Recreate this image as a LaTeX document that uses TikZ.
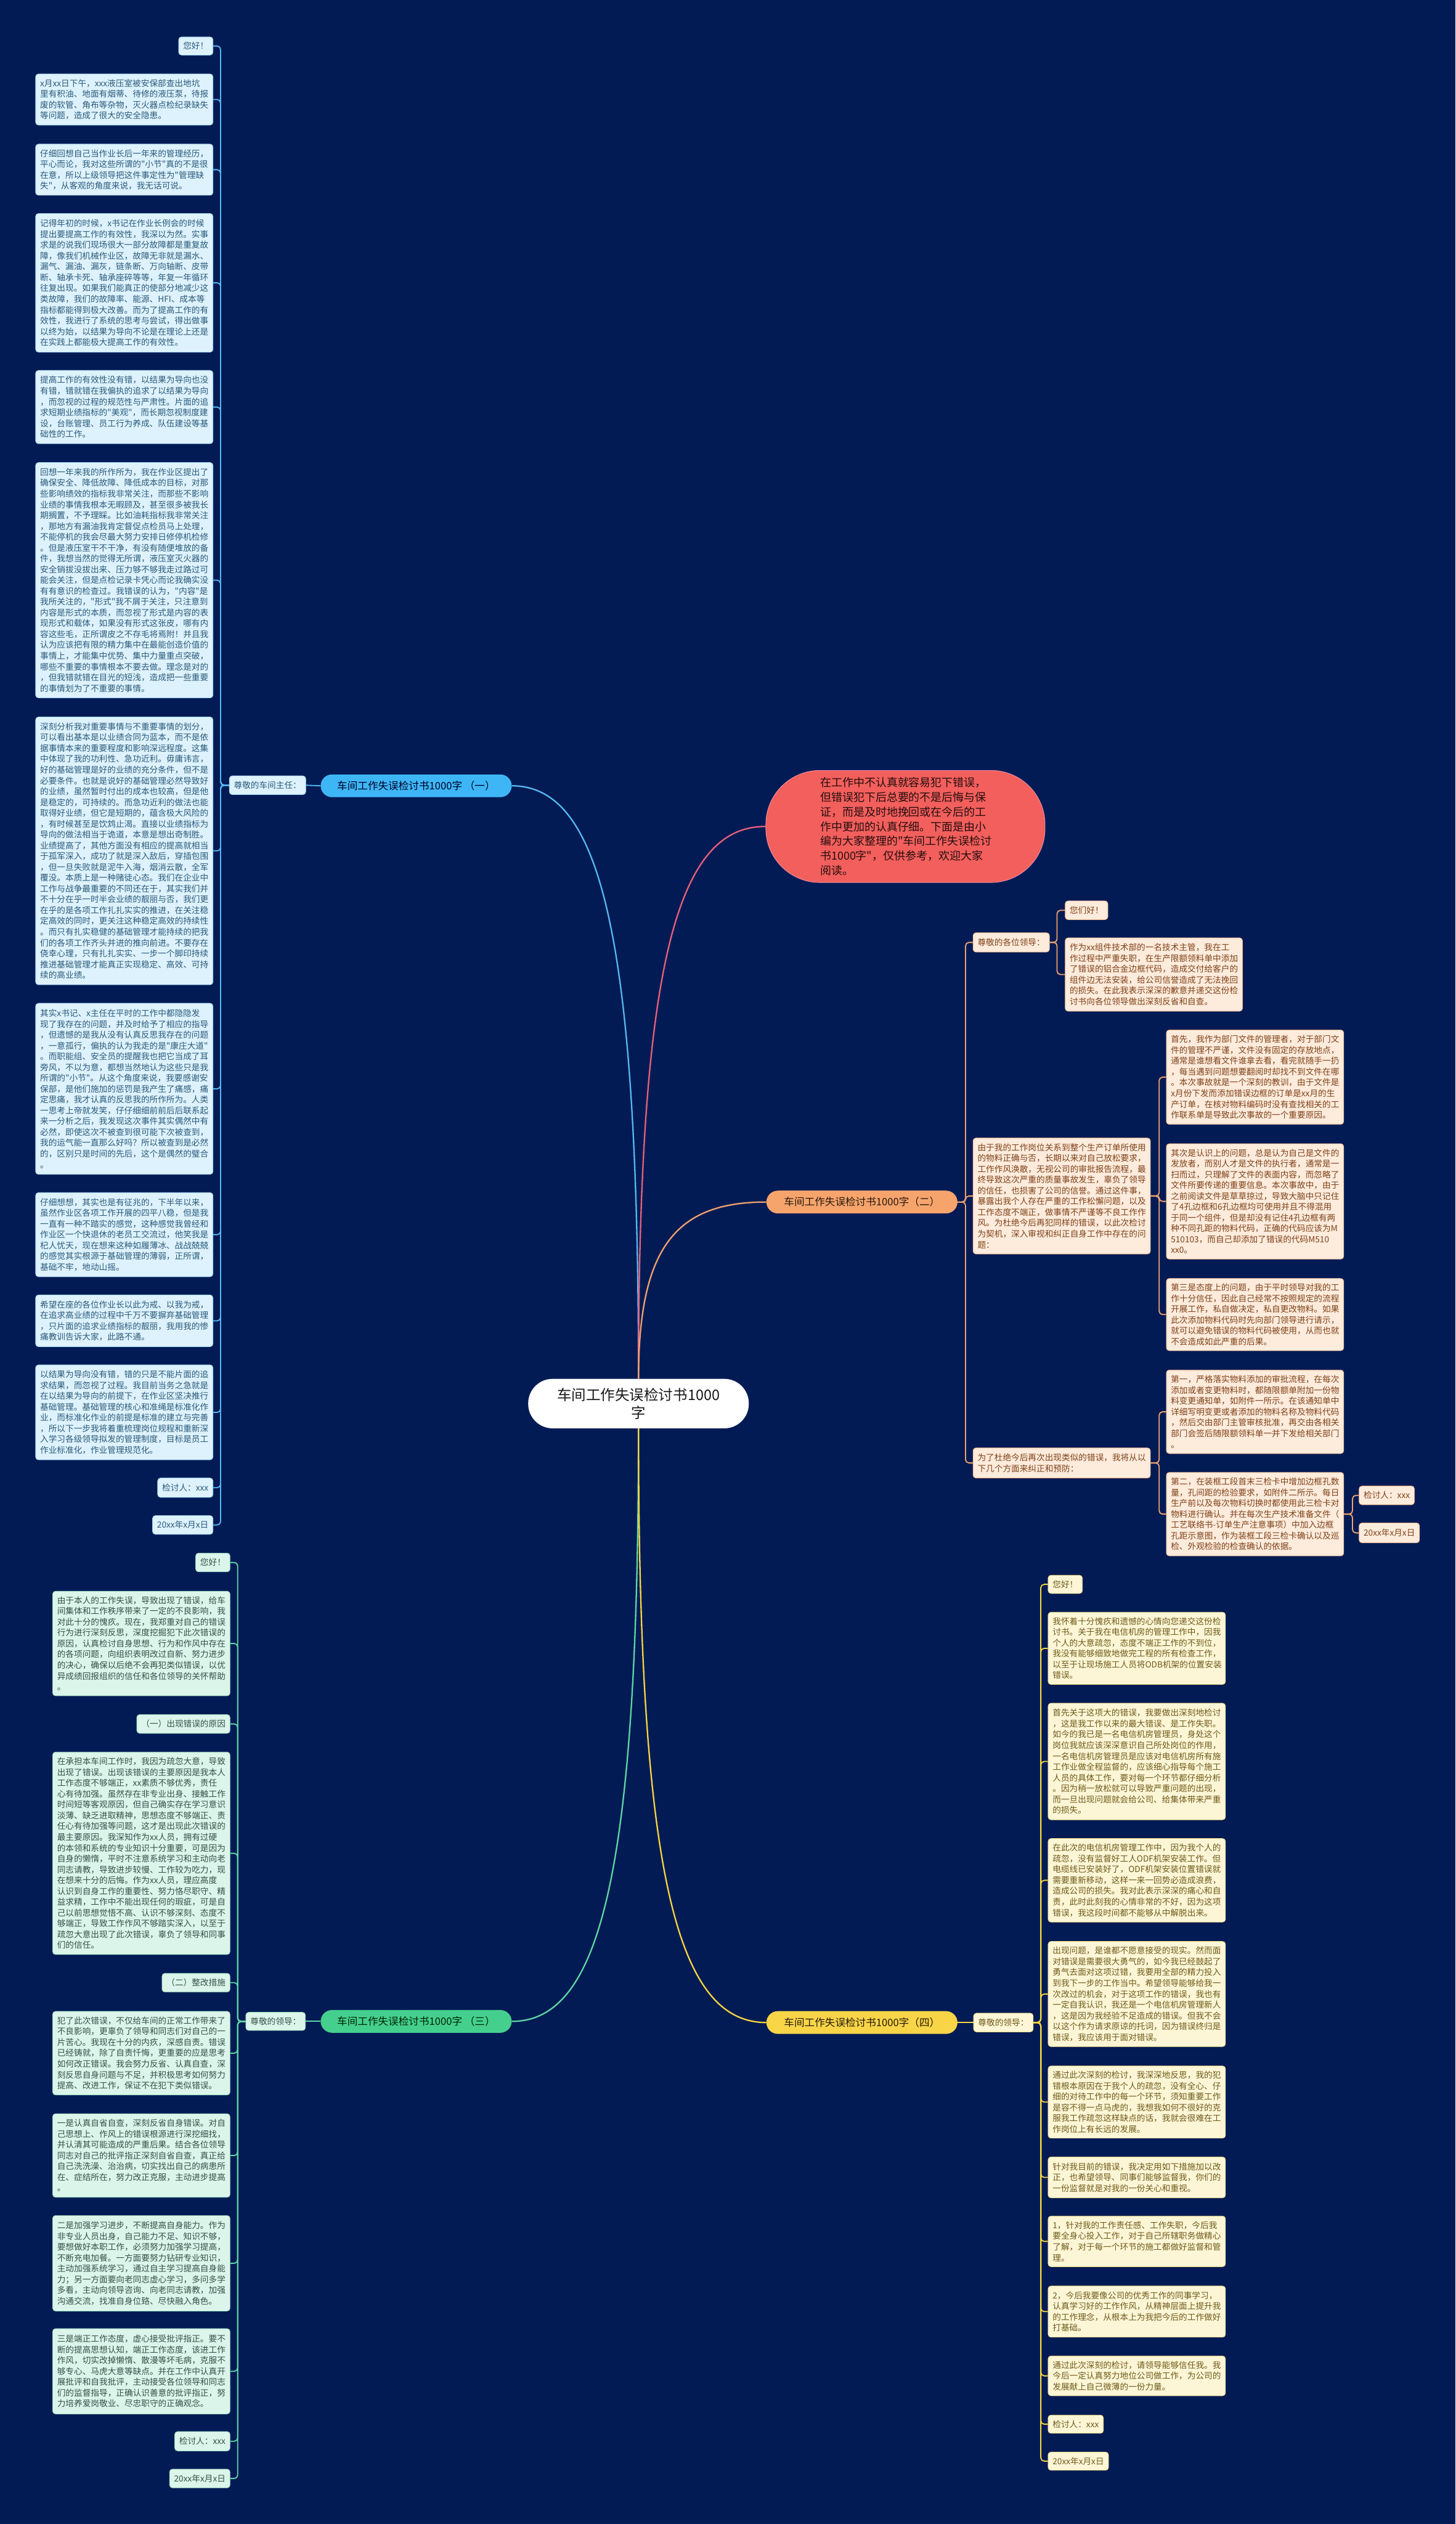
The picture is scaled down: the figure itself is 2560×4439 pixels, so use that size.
\documentclass[tikz,border=0pt]{standalone}
\usepackage{fontspec}
\newfontfamily\cjk{Noto Sans CJK SC}
\definecolor{bg}{HTML}{031B55}
\definecolor{fA}{HTML}{DDF2FC}\definecolor{dA}{HTML}{9BD3F3}\definecolor{tA}{HTML}{2B5A7A}\definecolor{lA}{HTML}{56B8F0}
\definecolor{fB}{HTML}{FDEBDC}\definecolor{dB}{HTML}{F3B585}\definecolor{tB}{HTML}{7E4218}\definecolor{lB}{HTML}{F0A36E}
\definecolor{fC}{HTML}{DCF5EA}\definecolor{dC}{HTML}{95DDBC}\definecolor{tC}{HTML}{34504A}\definecolor{lC}{HTML}{5DD6A3}
\definecolor{fD}{HTML}{FDF6D6}\definecolor{dD}{HTML}{F2DC7A}\definecolor{tD}{HTML}{6E5A1A}\definecolor{lD}{HTML}{F5D63E}
\definecolor{pA}{HTML}{3EB6F5}\definecolor{pB}{HTML}{F7A46C}\definecolor{pC}{HTML}{45CF8E}\definecolor{pD}{HTML}{F7D547}
\definecolor{red}{HTML}{F25F5C}\definecolor{redl}{HTML}{E9607A}
\begin{document}
\begin{tikzpicture}[x=1pt,y=-1pt,
  base/.style={font=\cjk\fontsize{14.8}{19}\selectfont, rounded corners=5pt, inner xsep=8pt, inner ysep=0pt, line width=0.8pt},
  big/.style={base, text width=296pt, align=left},
  sm/.style={base, minimum height=33pt},
  LA/.style={fill=fA, draw=dA, text=tA},
  LB/.style={fill=fB, draw=dB, text=tB},
  LC/.style={fill=fC, draw=dC, text=tC},
  LD/.style={fill=fD, draw=dD, text=tD},
  ne/.style={anchor=north east},
  nw/.style={anchor=north west},
  pill/.style={font=\cjk\fontsize{18}{20}\selectfont, rounded corners=20pt, minimum width=336pt, minimum height=40pt, inner sep=0pt},
  cA/.style={draw=lA, line width=2pt, rounded corners=6pt},
  cB/.style={draw=lB, line width=2pt, rounded corners=6pt},
  cC/.style={draw=lC, line width=2pt, rounded corners=6pt},
  cD/.style={draw=lD, line width=2pt, rounded corners=6pt},
  mline/.style={line width=2.5pt}
]
\fill[bg] (0,0) rectangle (2560,4439);
\useasboundingbox (0,0) rectangle (2560,4439);

% ---------- center ----------
\node[fill=white, rounded corners=43pt, minimum width=388pt, minimum height=87pt, align=center, text=black!90,
  font=\cjk\fontsize{25.5}{31}\selectfont, inner sep=0pt] (c) at (1123,2468.5) {车间工作失误检讨书1000\\字};

% ---------- red intro ----------
\node[fill=red, draw=redl!70!white, line width=1pt, rounded corners=95pt, minimum width=491pt, minimum height=197pt,
  text width=300pt, align=left, text=black!85!red, font=\cjk\fontsize{19.5}{25.7}\selectfont, inner sep=0pt] (r) at (1592.5,1453.5)
{在工作中不认真就容易犯下错误，\\但错误犯下后总要的不是后悔与保\\证，而是及时地挽回或在今后的工\\作中更加的认真仔细。下面是由小\\编为大家整理的"车间工作失误检讨\\书1000字"，仅供参考，欢迎大家\\阅读。};

% ---------- pills ----------
\node[pill, fill=pA, text=black!85!blue] (p1) at (732,1382) {车间工作失误检讨书1000字 （一）};
\node[pill, fill=pB, text=black!80!brown] (p2) at (1516,2114) {车间工作失误检讨书1000字（二）};
\node[pill, fill=pC, text=black!85!green] (p3) at (732,3555) {车间工作失误检讨书1000字 （三）};
\node[pill, fill=pD, text=black!80!brown] (p4) at (1516,3557) {车间工作失误检讨书1000字（四）};

\draw[mline, draw=lA] (c.north) .. controls (1123,1643) and (1056,1382) .. (p1.east);
\draw[mline, draw=redl] (c.north) .. controls (1123,1696) and (1190,1453) .. (r.west);
\draw[mline, draw=lB] (c.north) .. controls (1123,2192) and (1190,2114) .. (p2.west);
\draw[mline, draw=lC] (c.south) .. controls (1123,3294) and (1056,3555) .. (p3.east);
\draw[mline, draw=lD] (c.south) .. controls (1123,3296) and (1190,3557) .. (p4.west);

% ---------- branch 1 (left top) ----------
\node[sm, LA, anchor=west] (lab1) at (403,1381) {尊敬的车间主任：};
\node[sm, LA, ne, minimum height=32pt] (a1) at (375,64.5) {您好！};
\node[big, LA, ne, minimum height=90pt] (a2) at (375,129.6) {x月xx日下午，xxx液压室被安保部查出地坑\\里有积油、地面有烟蒂、待修的液压泵，待报\\废的软管、角布等杂物，灭火器点检纪录缺失\\等问题，造成了很大的安全隐患。};
\node[big, LA, ne, minimum height=90pt] (a3) at (375,253) {仔细回想自己当作业长后一年来的管理经历，\\平心而论，我对这些所谓的"小节"真的不是很\\在意，所以上级领导把这件事定性为"管理缺\\失"，从客观的角度来说，我无话可说。};
\node[big, LA, ne, minimum height=244pt] (a4) at (375,375) {记得年初的时候，x书记在作业长例会的时候\\提出要提高工作的有效性，我深以为然。实事\\求是的说我们现场很大一部分故障都是重复故\\障，像我们机械作业区，故障无非就是漏水、\\漏气、漏油、漏灰，链条断、万向轴断、皮带\\断、轴承卡死、轴承座碎等等，年复一年循环\\往复出现。如果我们能真正的使部分地减少这\\类故障，我们的故障率、能源、HFI、成本等\\指标都能得到极大改善。而为了提高工作的有\\效性，我进行了系统的思考与尝试，得出做事\\以终为始，以结果为导向不论是在理论上还是\\在实践上都能极大提高工作的有效性。};
\node[big, LA, ne, minimum height=129pt] (a5) at (375,651) {提高工作的有效性没有错，以结果为导向也没\\有错，错就错在我偏执的追求了以结果为导向\\，而忽视的过程的规范性与严肃性。片面的追\\求短期业绩指标的"美观"，而长期忽视制度建\\设，台账管理、员工行为养成、队伍建设等基\\础性的工作。};
\node[big, LA, ne, minimum height=414pt] (a6) at (375,813) {回想一年来我的所作所为，我在作业区提出了\\确保安全、降低故障、降低成本的目标，对那\\些影响绩效的指标我非常关注，而那些不影响\\业绩的事情我根本无暇顾及，甚至很多被我长\\期搁置，不予理睬。比如油耗指标我非常关注\\，那地方有漏油我肯定督促点检员马上处理，\\不能停机的我会尽最大努力安排日修停机检修\\。但是液压室干不干净，有没有随便堆放的备\\件，我想当然的觉得无所谓，液压室灭火器的\\安全销拔没拔出来、压力够不够我走过路过可\\能会关注，但是点检记录卡凭心而论我确实没\\有有意识的检查过。我错误的认为，"内容"是\\我所关注的，"形式"我不屑于关注，只注意到\\内容是形式的本质，而忽视了形式是内容的表\\现形式和载体，如果没有形式这张皮，哪有内\\容这些毛，正所谓皮之不存毛将焉附！并且我\\认为应该把有限的精力集中在最能创造价值的\\事情上，才能集中优势、集中力量重点突破，\\哪些不重要的事情根本不要去做。理念是对的\\，但我错就错在目光的短浅，造成把一些重要\\的事情划为了不重要的事情。};
\node[big, LA, ne, minimum height=471pt] (a7) at (375,1260.5) {深刻分析我对重要事情与不重要事情的划分，\\可以看出基本是以业绩合同为蓝本，而不是依\\据事情本来的重要程度和影响深远程度。这集\\中体现了我的功利性、急功近利。毋庸讳言，\\好的基础管理是好的业绩的充分条件，但不是\\必要条件。也就是说好的基础管理必然导致好\\的业绩，虽然暂时付出的成本也较高，但是他\\是稳定的，可持续的。而急功近利的做法也能\\取得好业绩，但它是短期的，蕴含极大风险的\\，有时候甚至是饮鸩止渴。直接以业绩指标为\\导向的做法相当于诡道，本意是想出奇制胜。\\业绩提高了，其他方面没有相应的提高就相当\\于孤军深入，成功了就是深入敌后，穿插包围\\，但一旦失败就是泥牛入海，烟消云散，全军\\覆没。本质上是一种赌徒心态。我们在企业中\\工作与战争最重要的不同还在于，其实我们并\\不十分在乎一时半会业绩的靓丽与否，我们更\\在乎的是各项工作扎扎实实的推进，在关注稳\\定高效的同时，更关注这种稳定高效的持续性\\。而只有扎实稳健的基础管理才能持续的把我\\们的各项工作齐头并进的推向前进。不要存在\\侥幸心理，只有扎扎实实、一步一个脚印持续\\推进基础管理才能真正实现稳定、高效、可持\\续的高业绩。};
\node[big, LA, ne, minimum height=301pt] (a8) at (375,1764) {其实x书记、x主任在平时的工作中都隐隐发\\现了我存在的问题，并及时给予了相应的指导\\，但遗憾的是我从没有认真反思我存在的问题\\，一意孤行，偏执的认为我走的是"康庄大道"\\。而职能组、安全员的提醒我也把它当成了耳\\旁风，不以为意，都想当然地认为这些只是我\\所谓的"小节"。从这个角度来说，我要感谢安\\保部，是他们施加的惩罚是我产生了痛感，痛\\定思痛，我才认真的反思我的所作所为。人类\\一思考上帝就发笑，仔仔细细前前后后联系起\\来一分析之后，我发现这次事件其实偶然中有\\必然，即使这次不被查到很可能下次被查到，\\我的运气能一直那么好吗？所以被查到是必然\\的，区别只是时间的先后，这个是偶然的璧合\\。};
\node[big, LA, ne, minimum height=148pt] (a9) at (375,2097) {仔细想想，其实也是有征兆的，下半年以来，\\虽然作业区各项工作开展的四平八稳，但是我\\一直有一种不踏实的感觉，这种感觉我曾经和\\作业区一个快退休的老员工交流过，他笑我是\\杞人忧天，现在想来这种如履薄冰、战战兢兢\\的感觉其实根源于基础管理的薄弱，正所谓，\\基础不牢，地动山摇。};
\node[big, LA, ne, minimum height=91pt] (a10) at (375,2277) {希望在座的各位作业长以此为戒、以我为戒，\\在追求高业绩的过程中千万不要摒弃基础管理\\，只片面的追求业绩指标的靓丽，我用我的惨\\痛教训告诉大家，此路不通。};
\node[big, LA, ne, minimum height=167pt] (a11) at (375,2400) {以结果为导向没有错，错的只是不能片面的追\\求结果，而忽视了过程。我目前当务之急就是\\在以结果为导向的前提下，在作业区坚决推行\\基础管理。基础管理的核心和准绳是标准化作\\业，而标准化作业的前提是标准的建立与完善\\，所以下一步我将着重梳理岗位规程和重新深\\入学习各级领导拟发的管理制度，目标是员工\\作业标准化，作业管理规范化。};
\node[sm, LA, ne, minimum height=34pt] (a12) at (375,2599) {检讨人：xxx};
\node[sm, LA, ne] (a13) at (375,2665) {20xx年x月x日};
\draw[cA] (p1.west) -- (lab1.east);
\foreach \n in {a1,a2,a3,a4,a5,a6,a7,a8,a9,a10,a11,a12,a13}
  \draw[cA] (lab1.west) -- ++(-15,0) |- (\n.east);

% ---------- branch 3 (left bottom) ----------
\node[sm, LC, anchor=west, minimum height=32pt] (lab3) at (432,3555) {尊敬的领导：};
\node[sm, LC, ne] (d1) at (405,2731) {您好！};
\node[big, LC, ne, minimum height=184pt] (d2) at (405,2798) {由于本人的工作失误，导致出现了错误，给车\\间集体和工作秩序带来了一定的不良影响，我\\对此十分的愧疚。现在，我郑重对自己的错误\\行为进行深刻反思，深度挖掘犯下此次错误的\\原因，认真检讨自身思想、行为和作风中存在\\的各项问题，向组织表明改过自新、努力进步\\的决心，确保以后绝不会再犯类似错误，以优\\异成绩回报组织的信任和各位领导的关怀帮助\\。};
\node[sm, LC, ne] (d3) at (405,3015) {（一）出现错误的原因};
\node[big, LC, ne, minimum height=356pt] (d4) at (405,3081) {在承担本车间工作时，我因为疏忽大意，导致\\出现了错误。出现该错误的主要原因是我本人\\工作态度不够端正，xx素质不够优秀，责任\\心有待加强。虽然存在非专业出身、接触工作\\时间短等客观原因，但自己确实存在学习意识\\淡薄、缺乏进取精神，思想态度不够端正、责\\任心有待加强等问题，这才是出现此次错误的\\最主要原因。我深知作为xx人员，拥有过硬\\的本领和系统的专业知识十分重要，可是因为\\自身的懒惰，平时不注意系统学习和主动向老\\同志请教，导致进步较慢、工作较为吃力，现\\在想来十分的后悔。作为xx人员，理应高度\\认识到自身工作的重要性、努力恪尽职守、精\\益求精，工作中不能出现任何的瑕疵，可是自\\己以前思想觉悟不高、认识不够深刻、态度不\\够端正，导致工作作风不够踏实深入，以至于\\疏忽大意出现了此次错误，辜负了领导和同事\\们的信任。};
\node[sm, LC, ne] (d5) at (405,3470) {（二）整改措施};
\node[big, LC, ne, minimum height=147pt] (d6) at (405,3537) {犯了此次错误，不仅给车间的正常工作带来了\\不良影响，更辜负了领导和同志们对自己的一\\片苦心。我现在十分的内疚，深感自责。错误\\已经铸就，除了自责忏悔，更重要的应是思考\\如何改正错误。我会努力反省、认真自查，深\\刻反思自身问题与不足，并积极思考如何努力\\提高、改进工作，保证不在犯下类似错误。};
\node[big, LC, ne, minimum height=147pt] (d7) at (405,3717) {一是认真自省自查，深刻反省自身错误。对自\\己思想上、作风上的错误根源进行深挖细找，\\并认清其可能造成的严重后果。结合各位领导\\同志对自己的批评指正深刻自省自查，真正给\\自己洗洗澡、治治病，切实找出自己的病患所\\在、症结所在，努力改正克服，主动进步提高\\。};
\node[big, LC, ne, minimum height=168pt] (d8) at (405,3896) {二是加强学习进步，不断提高自身能力。作为\\非专业人员出身，自己能力不足、知识不够，\\要想做好本职工作，必须努力加强学习提高，\\不断充电加餐。一方面要努力钻研专业知识，\\主动加强系统学习，通过自主学习提高自身能\\力；另一方面要向老同志虚心学习，多问多学\\多看，主动向领导咨询、向老同志请教，加强\\沟通交流，找准自身位臵、尽快融入角色。};
\node[big, LC, ne, minimum height=150pt] (d9) at (405,4095) {三是端正工作态度，虚心接受批评指正。要不\\断的提高思想认知，端正工作态度，该进工作\\作风，切实改掉懒惰、散漫等坏毛病，克服不\\够专心、马虎大意等缺点。并在工作中认真开\\展批评和自我批评，主动接受各位领导和同志\\们的监督指导，正确认识善意的批评指正，努\\力培养爱岗敬业、尽忠职守的正确观念。};
\node[sm, LC, ne, minimum height=34pt] (d10) at (405,4276) {检讨人：xxx};
\node[sm, LC, ne] (d11) at (405,4342) {20xx年x月x日};
\draw[cC] (p3.west) -- (lab3.east);
\foreach \n in {d1,d2,d3,d4,d5,d6,d7,d8,d9,d10,d11}
  \draw[cC] (lab3.west) -- ++(-14,0) |- (\n.east);

% ---------- branch 2 (right top) ----------
\node[sm, LB, nw, minimum height=34pt] (e0) at (1711,1640) {尊敬的各位领导：};
\node[sm, LB, nw] (e1) at (1873,1584) {您们好！};
\node[big, LB, nw, minimum height=129pt] (e2) at (1873,1649) {作为xx组件技术部的一名技术主管，我在工\\作过程中严重失职，在生产限额领料单中添加\\了错误的铝合金边框代码，造成交付给客户的\\组件边无法安装，给公司信誉造成了无法挽回\\的损失。在此我表示深深的歉意并递交这份检\\讨书向各位领导做出深刻反省和自查。};
\node[big, LB, nw, minimum height=204pt] (f) at (1711,2001) {由于我的工作岗位关系到整个生产订单所使用\\的物料正确与否，长期以来对自己放松要求，\\工作作风涣散，无视公司的审批报告流程，最\\终导致这次严重的质量事故发生，辜负了领导\\的信任，也损害了公司的信誉。通过这件事，\\暴露出我个人存在严重的工作松懈问题，以及\\工作态度不端正，做事情不严谨等不良工作作\\风。为杜绝今后再犯同样的错误，以此次检讨\\为契机，深入审视和纠正自身工作中存在的问\\题：};
\node[big, LB, nw, minimum height=166pt] (f1) at (2051,1811) {首先，我作为部门文件的管理者，对于部门文\\件的管理不严谨，文件没有固定的存放地点，\\通常是谁想看文件谁拿去看，看完就随手一扔\\，每当遇到问题想要翻阅时却找不到文件在哪\\。本次事故就是一个深刻的教训，由于文件是\\x月份下发而添加错误边框的订单是xx月的生\\产订单，在核对物料编码时没有查找相关的工\\作联系单是导致此次事故的一个重要原因。};
\node[big, LB, nw, minimum height=203pt] (f2) at (2051,2011) {其次是认识上的问题，总是认为自己是文件的\\发放者，而别人才是文件的执行者，通常是一\\扫而过，只理解了文件的表面内容，而忽略了\\文件所要传递的重要信息。本次事故中，由于\\之前阅读文件是草草掠过，导致大脑中只记住\\了4孔边框和6孔边框均可使用并且不得混用\\于同一个组件，但是却没有记住4孔边框有两\\种不同孔距的物料代码，正确的代码应该为M\\510103，而自己却添加了错误的代码M510\\xx0。};
\node[big, LB, nw, minimum height=127pt] (f3) at (2051,2248) {第三是态度上的问题，由于平时领导对我的工\\作十分信任，因此自己经常不按照规定的流程\\开展工作，私自做决定，私自更改物料。如果\\此次添加物料代码时先向部门领导进行请示，\\就可以避免错误的物料代码被使用，从而也就\\不会造成如此严重的后果。};
\node[big, LB, nw, minimum height=53pt] (g) at (1711,2546) {为了杜绝今后再次出现类似的错误，我将从以\\下几个方面来纠正和预防：};
\node[big, LB, nw, minimum height=147pt] (g1) at (2051,2409) {第一，严格落实物料添加的审批流程，在每次\\添加或者变更物料时，都随限额单附加一份物\\料变更通知单，如附件一所示。在该通知单中\\详细写明变更或者添加的物料名称及物料代码\\，然后交由部门主管审核批准，再交由各相关\\部门会签后随限额领料单一并下发给相关部门\\。};
\node[big, LB, nw, minimum height=147pt] (g2) at (2051,2589) {第二，在装框工段首末三检卡中增加边框孔数\\量，孔间距的检验要求，如附件二所示。每日\\生产前以及每次物料切换时都使用此三检卡对\\物料进行确认。并在每次生产技术准备文件（\\工艺联络书-订单生产注意事项）中加入边框\\孔距示意图，作为装框工段三检卡确认以及巡\\检、外观检验的检查确认的依据。};
\node[sm, LB, nw] (g2a) at (2390,2613) {检讨人：xxx};
\node[sm, LB, nw, minimum height=35pt] (g2b) at (2390,2678) {20xx年x月x日};
\foreach \n in {e0,f,g}
  \draw[cB] (p2.east) -- ++(14,0) |- (\n.west);
\foreach \n in {e1,e2}
  \draw[cB] (e0.east) -- ++(13,0) |- (\n.west);
\foreach \n in {f1,f2,f3}
  \draw[cB] (f.east) -- ++(15,0) |- (\n.west);
\foreach \n in {g1,g2}
  \draw[cB] (g.east) -- ++(15,0) |- (\n.west);
\foreach \n in {g2a,g2b}
  \draw[cB] (g2.east) -- ++(15,0) |- (\n.west);

% ---------- branch 4 (right bottom) ----------
\node[sm, LD, anchor=west] (lab4) at (1712,3557) {尊敬的领导：};
\node[sm, LD, nw, minimum height=32pt] (h1) at (1843,2770) {您好！};
\node[big, LD, nw, minimum height=127pt] (h2) at (1843,2835) {我怀着十分愧疚和遗憾的心情向您递交这份检\\讨书。关于我在电信机房的管理工作中，因我\\个人的大意疏忽，态度不端正工作的不到位，\\我没有能够细致地做完工程的所有检查工作，\\以至于让现场施工人员将ODB机架的位置安装\\错误。};
\node[big, LD, nw, minimum height=205pt] (h3) at (1843,2995) {首先关于这项大的错误，我要做出深刻地检讨\\，这是我工作以来的最大错误、是工作失职。\\如今的我已是一名电信机房管理员，身处这个\\岗位我就应该深深意识自己所处岗位的作用，\\一名电信机房管理员是应该对电信机房所有施\\工作业做全程监督的，应该细心指导每个施工\\人员的具体工作，要对每一个环节都仔细分析\\。因为稍一放松就可以导致严重问题的出现，\\而一旦出现问题就会给公司、给集体带来严重\\的损失。};
\node[big, LD, nw, minimum height=147pt] (h4) at (1843,3233) {在此次的电信机房管理工作中，因为我个人的\\疏忽，没有监督好工人ODF机架安装工作。但\\电缆线已安装好了，ODF机架安装位置错误就\\需要重新移动，这样一来一回势必造成浪费，\\造成公司的损失。我对此表示深深的痛心和自\\责，此时此刻我的心情非常的不好，因为这项\\错误，我这段时间都不能够从中解脱出来。};
\node[big, LD, nw, minimum height=185pt] (h5) at (1843,3414) {出现问题，是谁都不愿意接受的现实。然而面\\对错误是需要很大勇气的，如今我已经鼓起了\\勇气去面对这项过错，我要用全部的精力投入\\到我下一步的工作当中。希望领导能够给我一\\次改过的机会，对于这项工作的错误，我也有\\一定自我认识，我还是一个电信机房管理新人\\，这是因为我经验不足造成的错误。但我不会\\以这个作为请求原谅的托词，因为错误终归是\\错误，我应该用于面对错误。};
\node[big, LD, nw, minimum height=127pt] (h6) at (1843,3633) {通过此次深刻的检讨，我深深地反思，我的犯\\错根本原因在于我个人的疏忽，没有全心、仔\\细的对待工作中的每一个环节，须知重要工作\\是容不得一点马虎的，我想我如何不很好的克\\服我工作疏忽这样缺点的话，我就会很难在工\\作岗位上有长远的发展。};
\node[big, LD, nw, minimum height=72pt] (h7) at (1843,3793) {针对我目前的错误，我决定用如下措施加以改\\正，也希望领导、同事们能够监督我，你们的\\一份监督就是对我的一份关心和重视。};
\node[big, LD, nw, minimum height=89pt] (h8) at (1843,3897) {1，针对我的工作责任感、工作失职，今后我\\要全身心投入工作，对于自己所辖职务做精心\\了解，对于每一个环节的施工都做好监督和管\\理。};
\node[big, LD, nw, minimum height=90pt] (h9) at (1843,4020) {2，今后我要像公司的优秀工作的同事学习，\\认真学习好的工作作风，从精神层面上提升我\\的工作理念，从根本上为我把今后的工作做好\\打基础。};
\node[big, LD, nw, minimum height=70pt] (h10) at (1843,4143) {通过此次深刻的检讨，请领导能够信任我。我\\今后一定认真努力地位公司做工作，为公司的\\发展献上自己微薄的一份力量。};
\node[sm, LD, nw, minimum height=32pt] (h11) at (1843,4247) {检讨人：xxx};
\node[sm, LD, nw, minimum height=32pt] (h12) at (1843,4312) {20xx年x月x日};
\draw[cD] (p4.east) -- (lab4.west);
\foreach \n in {h1,h2,h3,h4,h5,h6,h7,h8,h9,h10,h11,h12}
  \draw[cD] (lab4.east) -- ++(13,0) |- (\n.west);
\end{tikzpicture}
\end{document}
